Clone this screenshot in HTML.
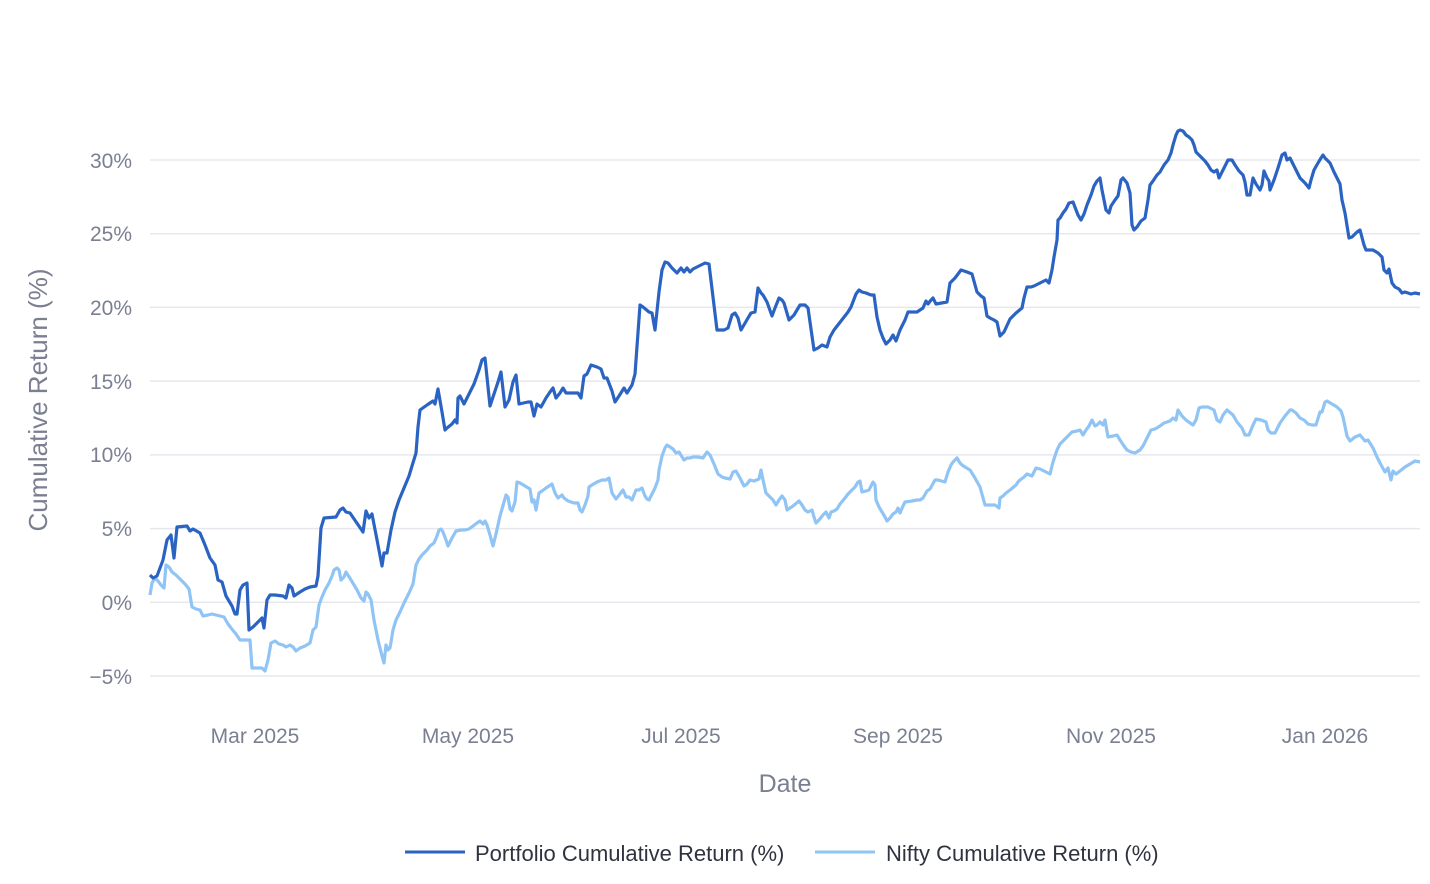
<!DOCTYPE html>
<html><head><meta charset="utf-8"><style>
html,body{margin:0;padding:0;background:#fff;}
svg{display:block;font-family:"Liberation Sans",sans-serif;}
</style></head><body>
<svg width="1430" height="884" viewBox="0 0 1430 884">
<g stroke="#e6e8ee" stroke-width="1.5">
<line x1="150" x2="1420" y1="160" y2="160"/>
<line x1="150" x2="1420" y1="233.7" y2="233.7"/>
<line x1="150" x2="1420" y1="307.4" y2="307.4"/>
<line x1="150" x2="1420" y1="381.1" y2="381.1"/>
<line x1="150" x2="1420" y1="454.9" y2="454.9"/>
<line x1="150" x2="1420" y1="528.6" y2="528.6"/>
<line x1="150" x2="1420" y1="602.3" y2="602.3"/>
<line x1="150" x2="1420" y1="676" y2="676"/>
</g>
<g fill="#7a7f92" font-size="21" text-anchor="end">
<text x="132" y="168">30%</text>
<text x="132" y="241">25%</text>
<text x="132" y="315">20%</text>
<text x="132" y="389">15%</text>
<text x="132" y="462">10%</text>
<text x="132" y="536">5%</text>
<text x="132" y="610">0%</text>
<text x="132" y="684">−5%</text>
</g>
<g fill="#7a7f92" font-size="21" text-anchor="middle">
<text x="255" y="743">Mar 2025</text>
<text x="468" y="743">May 2025</text>
<text x="681" y="743">Jul 2025</text>
<text x="898" y="743">Sep 2025</text>
<text x="1111" y="743">Nov 2025</text>
<text x="1325" y="743">Jan 2026</text>
<text x="785" y="792" font-size="25">Date</text>
<text transform="translate(47,400) rotate(-90)" font-size="26">Cumulative Return (%)</text>
</g>
<polyline fill="none" stroke="#90c4f5" stroke-width="3.2" stroke-linejoin="round" points="150,595 152,583 155,578 158,581 161,585 164,588 166,565 169,567 172,572 176,575 180,579 185,584 189,589 192,607 196,609 200,610 203,616 208,615 212,614 216,615 220,616 224,617 228,624 231,628 236,634 240,640 248,640 250,640 252,668 258,668 262,668 265,671 268,660 271,643 275,641 279,644 283,645 286,647 290,645 293,647 296,651 300,648 305,646 310,643 313,630 316,627 319,605 322,597 325,590 329,583 332,576 334,570 337,568 339,570 341,580 344,577 346,572 351,580 357,590 361,598 364,601 366,592 368,594 371,600 374,620 378,640 382,656 384,663 386,645 388,650 390,648 393,630 396,620 400,612 404,603 409,593 413,584 416,565 419,559 422,555 427,550 430,546 434,543 437,536 439,530 441,529 443,532 446,540 448,546 452,538 456,531 461,530 465,530 469,529 473,526 477,523 480,521 483,524 485,521 487,525 490,535 493,546 496,534 500,516 504,502 506,495 508,497 510,509 512,511 515,502 517,482 520,483 525,486 530,489 532,502 534,500 536,510 539,493 542,491 546,488 549,486 552,484 555,493 558,498 562,495 564,498 568,501 574,503 578,503 580,510 582,512 585,505 588,496 589,487 592,485 597,482 602,480 606,480 609,478 612,493 616,499 620,494 623,490 626,497 629,497 632,500 636,490 639,490 642,488 645,496 647,499 649,500 652,494 655,488 658,480 659,470 662,456 665,448 667,445 670,447 673,449 676,453 679,452 684,460 687,458 690,458 693,457 698,457 703,458 707,452 710,455 714,464 718,474 722,477 725,478 730,479 733,472 736,471 740,478 744,486 747,484 750,480 754,481 759,479 761,470 763,480 766,493 770,497 773,500 776,505 779,500 782,496 785,500 787,510 790,508 793,506 799,501 802,505 805,510 808,512 812,510 814,517 816,523 819,520 823,515 826,512 829,518 831,512 834,511 837,509 840,504 845,498 848,494 852,490 855,487 858,482 860,481 862,492 866,491 869,490 873,482 875,485 876,500 879,507 882,512 885,517 887,521 890,518 893,514 896,512 898,508 900,513 903,506 905,502 912,501 917,500 920,500 923,498 927,491 930,489 935,480 938,480 945,482 948,472 951,465 953,462 957,458 960,463 962,465 965,467 970,470 975,478 980,487 985,505 990,505 995,505 999,508 1000,498 1003,496 1006,493 1010,490 1016,485 1018,482 1020,480 1024,477 1027,474 1032,476 1035,470 1036,468 1040,469 1046,472 1050,474 1053,462 1057,450 1060,444 1063,441 1068,436 1072,432 1077,431 1080,430 1083,435 1086,430 1089,426 1092,420 1095,426 1097,425 1100,422 1103,425 1105,420 1108,437 1113,436 1117,435 1120,440 1124,446 1127,450 1131,452 1135,453 1140,450 1143,446 1147,438 1151,430 1155,429 1160,426 1164,423 1170,421 1173,418 1176,420 1178,410 1182,416 1186,420 1190,423 1193,425 1196,420 1199,408 1202,407 1208,407 1214,410 1217,420 1220,422 1223,415 1227,410 1233,415 1237,422 1242,428 1245,435 1249,435 1253,425 1256,419 1261,420 1266,422 1268,430 1271,433 1275,433 1280,423 1285,416 1290,410 1292,410 1296,413 1300,418 1304,420 1308,424 1312,425 1316,425 1320,412 1322,412 1325,402 1327,401 1332,404 1337,407 1341,411 1343,417 1347,436 1350,441 1355,437 1360,435 1365,441 1368,440 1373,448 1377,457 1380,463 1385,472 1388,468 1391,480 1393,471 1396,474 1400,471 1405,467 1410,464 1415,461 1420,462"/>
<polyline fill="none" stroke="#2b63c3" stroke-width="3.2" stroke-linejoin="round" points="150,575 153,578 157,576 163,560 167,540 171,535 174,558 177,527 187,526 190,531 193,529 200,533 205,545 210,558 215,565 218,580 222,582 226,596 232,606 235,614 237,614 240,590 243,585 247,583 249,630 253,627 258,622 262,618 264,628 267,600 270,595 275,595 283,596 286,598 289,585 292,588 294,596 300,592 305,589 310,587 316,586 318,576 321,528 324,518 336,517 340,510 343,508 346,512 350,513 363,532 366,511 369,518 372,514 378,545 382,566 384,553 387,553 391,530 395,512 399,500 404,488 409,476 412,466 416,453 418,427 420,410 427,405 433,401 435,404 438,389 442,412 445,430 447,428 452,424 455,420 457,423 458,398 460,396 464,404 470,392 474,384 479,370 482,360 485,358 490,406 493,397 498,382 501,372 505,407 509,400 513,382 516,375 519,404 528,402 531,402 534,416 537,404 541,407 546,398 550,392 553,388 556,398 560,393 563,388 566,393 569,393 578,393 581,398 584,376 587,374 591,365 597,367 601,369 604,378 607,378 612,391 615,402 619,396 624,388 627,393 632,385 635,374 640,305 643,307 649,312 652,313 655,330 659,292 662,270 665,262 668,263 672,268 677,273 681,268 684,272 687,268 690,272 693,269 701,265 705,263 709,264 717,330 724,330 728,328 732,315 735,313 738,318 741,330 748,318 751,313 755,312 758,288 761,293 763,295 767,302 772,316 775,308 779,298 782,300 784,303 789,320 794,315 797,310 800,305 805,305 808,308 814,350 818,348 822,345 827,347 830,337 834,330 848,312 851,307 856,294 859,290 862,292 866,293 871,295 874,295 877,317 880,330 883,338 886,344 890,340 893,335 896,341 900,330 905,320 908,312 917,312 920,310 923,308 926,301 928,304 931,300 933,298 936,304 947,302 950,283 955,278 958,274 961,270 967,272 972,274 977,292 981,296 984,298 987,316 990,318 994,320 997,322 1000,336 1004,332 1010,319 1016,313 1022,308 1024,298 1027,287 1031,287 1034,286 1038,284 1042,282 1046,280 1049,283 1052,270 1054,257 1057,240 1058,220 1060,218 1063,213 1066,209 1069,203 1073,202 1078,215 1081,220 1084,214 1087,205 1091,195 1094,186 1097,181 1100,178 1102,190 1104,200 1106,210 1109,213 1111,206 1115,200 1118,196 1121,180 1123,178 1127,183 1130,193 1132,225 1134,230 1137,227 1141,221 1145,218 1148,200 1150,185 1153,181 1157,175 1160,172 1164,165 1168,160 1171,153 1173,145 1176,135 1178,131 1180,130 1183,131 1186,135 1189,137 1192,140 1194,145 1196,152 1200,156 1205,161 1208,165 1211,170 1214,172 1217,170 1219,178 1221,174 1225,166 1228,160 1232,160 1235,165 1239,171 1243,175 1245,182 1247,195 1250,195 1253,178 1256,184 1260,190 1262,185 1264,171 1267,178 1269,181 1270,190 1274,180 1278,168 1282,155 1285,153 1287,160 1290,158 1295,168 1300,178 1305,183 1309,188 1311,180 1314,170 1318,163 1321,158 1323,155 1325,158 1330,163 1334,172 1338,180 1340,184 1342,200 1345,213 1349,238 1352,237 1357,232 1360,230 1364,245 1366,250 1369,250 1373,250 1378,253 1382,257 1384,270 1387,273 1389,269 1392,283 1395,287 1399,289 1402,293 1405,292 1411,294 1415,293 1420,294"/>
<line x1="405" x2="465" y1="852" y2="852" stroke="#2b63c3" stroke-width="3"/>
<line x1="815" x2="875" y1="852" y2="852" stroke="#90c4f5" stroke-width="3"/>
<g fill="#2f3340" font-size="22">
<text x="475" y="861">Portfolio Cumulative Return (%)</text>
<text x="886" y="861">Nifty Cumulative Return (%)</text>
</g>
</svg>
</body></html>
